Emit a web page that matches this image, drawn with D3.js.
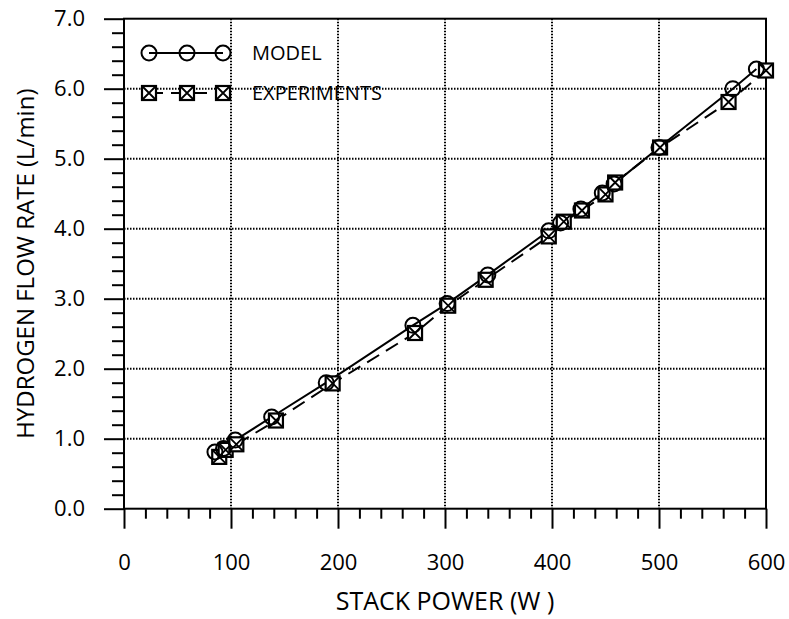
<!DOCTYPE html>
<html><head><meta charset="utf-8">
<script src="https://d3js.org/d3.v7.min.js"></script>
<style>body{margin:0;background:#fff}svg{display:block}text{font-family:"Open Sans",sans-serif;fill:#000}</style>
</head><body><svg id="c" width="789" height="619"></svg>
<script>
const modelX = [85, 93, 104, 138, 189, 270, 302, 340, 397, 408, 427, 447, 458, 500, 569, 591];
const modelY = [0.81, 0.86, 0.98, 1.31, 1.80, 2.62, 2.93, 3.34, 3.97, 4.08, 4.28, 4.51, 4.64, 5.16, 6.00, 6.28];
const expX = [89, 95, 105, 142, 195, 272, 303, 338, 397, 411, 428, 450, 459, 501, 565, 600];
const expY = [0.74, 0.84, 0.92, 1.26, 1.79, 2.51, 2.90, 3.27, 3.89, 4.10, 4.26, 4.49, 4.66, 5.16, 5.81, 6.26];
const xTicks = [0, 100, 200, 300, 400, 500, 600];
const yTicks = [0, 1, 2, 3, 4, 5, 6, 7];
const seriesNames = ["MODEL", "EXPERIMENTS"];
const xTitle = "STACK POWER (W )";
const yTitle = "HYDROGEN FLOW RATE (L/min)";

const svg = d3.select("#c");
const L = 124, R = 766, T = 18.7, B = 508.7;
const x = d3.scaleLinear().domain([0, 600]).range([L, R]);
const y = d3.scaleLinear().domain([0, 7]).range([B, T]);

// grid
const g = svg.append("g");
g.selectAll(".gx").data(xTicks.slice(1, -1)).join("line")
  .attr("x1", d => x(d)).attr("x2", d => x(d)).attr("y1", T).attr("y2", B)
  .attr("stroke", "#000").attr("stroke-width", 2).attr("stroke-dasharray", "1.5,1.5");
g.selectAll(".gy").data(yTicks.slice(1, -1)).join("line")
  .attr("y1", d => y(d)).attr("y2", d => y(d)).attr("x1", L).attr("x2", R)
  .attr("stroke", "#000").attr("stroke-width", 2).attr("stroke-dasharray", "1.5,1.5");

// axes
const xMinor = d3.range(0, 601, 20).filter(v => v % 100 !== 0);
const yMinor = d3.range(0, 35).map(i => i * 0.2).filter((v, i) => i % 5 !== 0);
const xAx = svg.append("g").attr("transform", `translate(0,${B})`)
  .call(d3.axisBottom(x).tickValues(xMinor).tickSize(10).tickFormat(""));
const xAx2 = svg.append("g").attr("transform", `translate(0,${B})`)
  .call(d3.axisBottom(x).tickValues(xTicks).tickSize(20).tickPadding(26).tickFormat(d3.format("d")));
const yAx = svg.append("g").attr("transform", `translate(${L},0)`)
  .call(d3.axisLeft(y).tickValues(yMinor).tickSize(12).tickFormat(""));
const yAx2 = svg.append("g").attr("transform", `translate(${L},0)`)
  .call(d3.axisLeft(y).tickValues(yTicks).tickSize(20).tickPadding(19).tickFormat(d3.format(".1f")));
[xAx, xAx2, yAx, yAx2].forEach(a => {
  a.selectAll("path").remove();
  a.selectAll("line").attr("stroke", "#000").attr("stroke-width", 2);
  a.selectAll("text").style("font-family", '"Open Sans",sans-serif').style("font-size", "22px").attr("fill", "#000");
});
// box
svg.append("rect").attr("x", L).attr("y", T).attr("width", R - L).attr("height", B - T)
  .attr("fill", "none").attr("stroke", "#000").attr("stroke-width", 2);

// titles
svg.append("text").attr("x", (L + R) / 2).attr("y", 610).attr("text-anchor", "middle")
  .style("font-size", "25px").text(xTitle);
svg.append("text").attr("transform", `translate(34,${(T + B) / 2}) rotate(-90)`).attr("text-anchor", "middle")
  .style("font-size", "24px").text(yTitle);

// lines
const model = modelX.map((v, i) => [v, modelY[i]]);
const exp = expX.map((v, i) => [v, expY[i]]);
const line = d3.line().x(d => x(d[0])).y(d => y(d[1]));
svg.append("path").attr("d", line(exp)).attr("fill", "none").attr("stroke", "#000")
  .attr("stroke-width", 2).attr("stroke-dasharray", "14,8");
svg.append("path").attr("d", line(model)).attr("fill", "none").attr("stroke", "#000").attr("stroke-width", 2);

function sq(sel, s) {
  sel.append("rect").attr("x", -s / 2).attr("y", -s / 2).attr("width", s).attr("height", s)
    .attr("fill", "#fff").attr("stroke", "#000").attr("stroke-width", 2.2);
  sel.append("path").attr("d", `M${-s/2},${-s/2}L${s/2},${s/2}M${s/2},${-s/2}L${-s/2},${s/2}`)
    .attr("stroke", "#000").attr("stroke-width", 1.8);
}
function circ(sel, r) {
  sel.append("circle").attr("r", r).attr("fill", "none").attr("stroke", "#000").attr("stroke-width", 2);
}
svg.append("g").selectAll("g").data(exp).join("g")
  .attr("transform", d => `translate(${x(d[0])},${y(d[1])})`).each(function () { sq(d3.select(this), 14); });
svg.append("g").selectAll("g").data(model).join("g")
  .attr("transform", d => `translate(${x(d[0])},${y(d[1])})`).each(function () { circ(d3.select(this), 7.5); });

// legend
const lg = svg.append("g");
const lx = [149, 187, 223];
lg.append("line").attr("x1", lx[0]).attr("x2", lx[2]).attr("y1", 53).attr("y2", 53).attr("stroke", "#000").attr("stroke-width", 2);
lx.forEach(v => circ(lg.append("g").attr("transform", `translate(${v},53)`), 7.5));
lg.append("line").attr("x1", lx[0]).attr("x2", lx[2]).attr("y1", 93).attr("y2", 93).attr("stroke", "#000").attr("stroke-width", 2).attr("stroke-dasharray", "14,8");
lx.forEach(v => sq(lg.append("g").attr("transform", `translate(${v},93)`), 14));
lg.append("text").attr("x", 252).attr("y", 60).style("font-size", "20px").text(seriesNames[0]);
lg.append("text").attr("x", 252).attr("y", 100).style("font-size", "20px").text(seriesNames[1]);
</script></body></html>
